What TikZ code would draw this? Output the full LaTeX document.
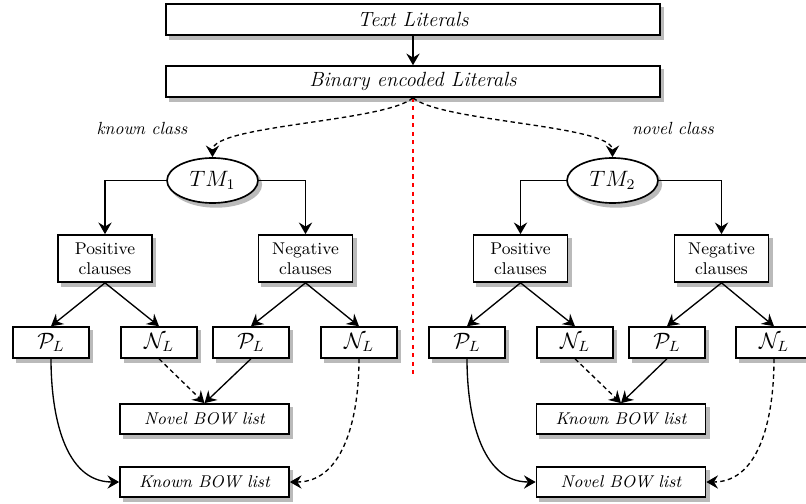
\documentclass[tikz,border=0pt]{standalone}
\usepackage[no-math]{fontspec}
\usetikzlibrary{shapes.geometric,arrows.meta,backgrounds}
\begin{document}
\begin{tikzpicture}[x=0.54pt,y=-0.54pt,
  shadowed/.style={draw=black, line width=0.9pt, fill=white},
  shadowfill/.style={fill=black!27, draw=none},
  bigbox/.style={shadowed, rectangle, minimum width=266.8pt, minimum height=16.7pt,
    inner sep=0pt, font=\fontsize{11.1}{14}\selectfont\itshape},
  tmnode/.style={shadowed, ellipse, minimum width=49.1pt, minimum height=24.3pt,
    inner sep=0pt, font=\large},
  clausebox/.style={shadowed, rectangle, minimum width=50.8pt, minimum height=25.4pt,
    inner sep=0pt, align=center, font=\fontsize{9.2}{10.8}\selectfont},
  litbox/.style={shadowed, rectangle, minimum width=41pt, minimum height=16.7pt,
    inner sep=0pt, font=\large},
  bowbox/.style={shadowed, rectangle, minimum width=91.3pt, minimum height=16.2pt,
    inner sep=0pt, font=\fontsize{9.2}{12}\selectfont\itshape},
  lbl/.style={font=\fontsize{9.5}{12}\selectfont\itshape, inner sep=0pt},
  arrowtip/.style={-{Stealth[length=6.3pt,width=7.2pt,inset=2.2pt]}},
  conn/.style={arrowtip, line width=0.72pt},
  dconn/.style={conn, dash pattern=on 2.4pt off 1.8pt},
  divider/.style={draw=red, line width=0.9pt, dash pattern=on 2.2pt off 2.4pt}]
\useasboundingbox (0,0) rectangle (806,504);

% top boxes
\node[bigbox] (textlit) at (413,19.5) {Text Literals};
\node[bigbox] (binary) at (413,81.5) {Binary encoded Literals};

% labels
\node[lbl] (knownlbl) at (142,128) {known class};
\node[lbl] (novellbl) at (673,128) {novel class};

% Tsetlin machines
\node[tmnode] (tm1) at (212.5,180.5) {$TM_1$};
\node[tmnode] (tm2) at (612.5,180.5) {$TM_2$};

% clause boxes
\node[clausebox] (pos1) at (105,258.5) {Positive\\clauses};
\node[clausebox] (neg1) at (305.5,258.5) {Negative\\clauses};
\node[clausebox] (pos2) at (520.5,258.5) {Positive\\clauses};
\node[clausebox] (neg2) at (721.5,258.5) {Negative\\clauses};

% literal boxes
\node[litbox] (pl1) at (51,342.5) {$\mathcal{P}_L$};
\node[litbox] (nl1) at (159,342.5) {$\mathcal{N}_L$};
\node[litbox] (pl2) at (251,342.5) {$\mathcal{P}_L$};
\node[litbox] (nl2) at (359,342.5) {$\mathcal{N}_L$};
\node[litbox] (pl3) at (467,342.5) {$\mathcal{P}_L$};
\node[litbox] (nl3) at (575,342.5) {$\mathcal{N}_L$};
\node[litbox] (pl4) at (667,342.5) {$\mathcal{P}_L$};
\node[litbox] (nl4) at (774,342.5) {$\mathcal{N}_L$};

% BOW lists
\node[bowbox] (novel1) at (204.5,419) {Novel BOW list};
\node[bowbox] (known1) at (204.5,482) {Known BOW list};
\node[bowbox] (known2) at (621,419) {Known BOW list};
\node[bowbox] (novel2) at (621,482) {Novel BOW list};

% drop shadows
\begin{scope}[on background layer]
  \foreach \n in {textlit,binary,pos1,neg1,pos2,neg2,pl1,nl1,pl2,nl2,pl3,nl3,pl4,nl4,novel1,known1,known2,novel2}{
    \fill[shadowfill] ([shift={(1.9pt,-2.2pt)}]\n.south west) rectangle ([shift={(1.9pt,-2.2pt)}]\n.north east);
  }
  \foreach \n in {tm1,tm2}{
    \fill[shadowfill] ([shift={(1.9pt,-2.2pt)}]\n.center) ellipse [x radius=24.9pt, y radius=12.5pt];
  }
\end{scope}

% divider
\coordinate (redend) at (413,375);
\draw[divider] (binary.south) -- (redend);

% connectors
\draw[conn] (textlit) -- (binary);
\draw[dconn] (binary.south) .. controls (385,122) and (212.5,125) .. (tm1.north);
\draw[dconn] (binary.south) .. controls (441,122) and (612.5,125) .. (tm2.north);

\draw[conn] (tm1.west) -| (pos1.north);
\draw[conn] (tm1.east) -| (neg1.north);
\draw[conn] (tm2.west) -| (pos2.north);
\draw[conn] (tm2.east) -| (neg2.north);

\draw[conn] (pos1.south) -- (pl1.north);
\draw[conn] (pos1.south) -- (nl1.north);
\draw[conn] (neg1.south) -- (pl2.north);
\draw[conn] (neg1.south) -- (nl2.north);
\draw[conn] (pos2.south) -- (pl3.north);
\draw[conn] (pos2.south) -- (nl3.north);
\draw[conn] (neg2.south) -- (pl4.north);
\draw[conn] (neg2.south) -- (nl4.north);

\draw[dconn] (nl1.south) -- (novel1.north);
\draw[conn] (pl2.south) -- (novel1.north);
\draw[conn] (pl1.south) to[out=-90,in=180] (known1.west);
\draw[dconn] (nl2.south) to[out=-90,in=0] (known1.east);

\draw[dconn] (nl3.south) -- (known2.north);
\draw[conn] (pl4.south) -- (known2.north);
\draw[conn] (pl3.south) to[out=-90,in=180] (novel2.west);
\draw[dconn] (nl4.south) to[out=-90,in=0] (novel2.east);
\end{tikzpicture}
\end{document}
